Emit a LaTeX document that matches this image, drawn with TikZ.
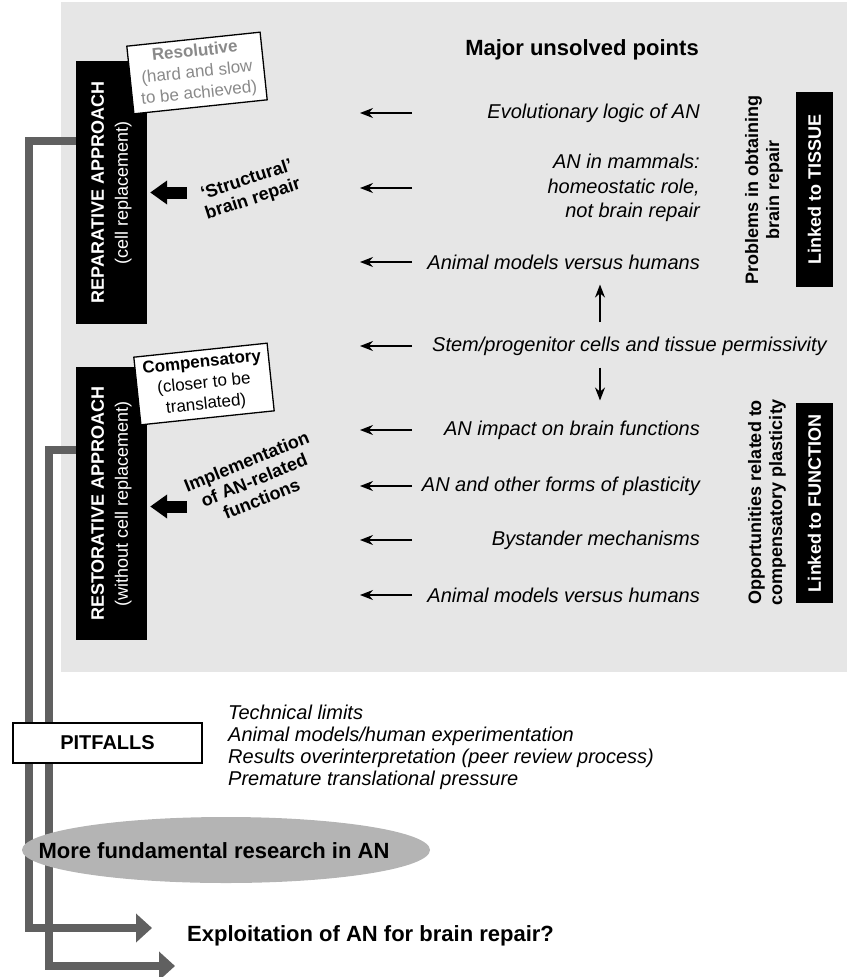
\documentclass[tikz,border=0pt]{standalone}
\usepackage{fontspec}
\setmainfont{Liberation Sans}
\usetikzlibrary{
    arrows.meta,
    shapes.geometric,
    calc
}
\definecolor{panelgray}{HTML}{E6E6E6}
\definecolor{flowgray}{HTML}{606060}
\definecolor{ovalgray}{HTML}{B4B4B4}
\definecolor{softtext}{HTML}{8A8A8A}
\tikzset {
    black box/.style = {fill = black, text = white, rotate = 90, align = center, inner sep = 0pt},
    tilted box/.style = {
        draw, fill = white, line width = 1.3pt, rotate = 6, align = center,
        minimum width = 134pt, minimum height = 68pt, inner sep = 2pt,
        font = \fontsize{17}{21}\selectfont
    },
    plain box/.style = {draw, fill = white, line width = 1.3pt, inner sep = 0pt},
    item/.style = {anchor = east, inner sep = 0pt, font = \fontsize{20}{24.5}\selectfont\itshape},
    side label/.style = {rotate = 90, align = center, inner sep = 0pt, font = \fontsize{18}{21}\selectfont\bfseries},
    slanted label/.style = {align = center, inner sep = 0pt, font = \fontsize{18}{20}\selectfont\bfseries},
    oval/.style = {ellipse, fill = ovalgray, inner sep = 0pt},
    small arrow/.style = {line width = 1.4pt, arrows = {-Stealth[length = 13pt, width = 10pt]}},
    block arrow/.style = {line width = 12pt, arrows = {-Triangle[length = 17pt, width = 23pt]}},
    flow/.style = {draw = flowgray, line width = 8pt, arrows = {-Triangle[length = 16pt, width = 28pt]}}
}

\begin{document}
\begin{tikzpicture}[x = 1pt, y = -1pt]
    \useasboundingbox (0, 0) rectangle (851, 977);
    \fill [panelgray] (61, 2) rectangle (847, 672);

    % two approaches
    \node [black box, minimum width = 263pt, minimum height = 71pt, font = \fontsize{18}{24}\selectfont]
        (repar) at (111.5, 192.5) {\textbf{REPARATIVE APPROACH}\\(cell replacement)};
    \node [black box, minimum width = 273pt, minimum height = 71pt, font = \fontsize{18}{24}\selectfont]
        (restor) at (111.5, 503.5) {\textbf{RESTORATIVE APPROACH}\\(without cell replacement)};
    \node [tilted box, text = softtext] (resolutive) at (197, 73)
        {\textbf{Resolutive}\\(hard and slow\\to be achieved)};
    \node [tilted box] (compens) at (204, 384)
        {\textbf{Compensatory}\\(closer to be\\translated)};

    \node [slanted label, rotate = 18] (structural) at (250, 190) {‘Structural’\\brain repair};
    \node [slanted label, rotate = 22] (implement) at (254, 480) {Implementation\\of AN-related\\functions};
    \draw [block arrow] ([xshift = 40pt]repar.south) -- ([xshift = 3pt]repar.south);
    \draw [block arrow] ([xshift = 40pt, yshift = -3pt]restor.south) -- ([xshift = 3pt, yshift = -3pt]restor.south);

    % unsolved points
    \node [font = \fontsize{22}{26}\selectfont\bfseries] (heading) at (582, 50) {Major unsolved points};
    \node [item] (evo) at (700, 113) {Evolutionary logic of AN};
    \node [item, align = right] (mammals) at (700, 188) {AN in mammals:\\homeostatic role,\\not brain repair};
    \node [item] (animal1) at (700, 262) {Animal models versus humans};
    \node [item] (stem) at (827, 346) {Stem/progenitor cells and tissue permissivity};
    \node [item] (impact) at (700, 430) {AN impact on brain functions};
    \node [item] (plastic) at (700, 486) {AN and other forms of plasticity};
    \node [item] (bystander) at (700, 540) {Bystander mechanisms};
    \node [item] (animal2) at (700, 595) {Animal models versus humans};

    \coordinate (rowstart) at (412, 0);
    \coordinate (rowend) at (360, 0);
    \coordinate (updown) at (600, 0);
    \draw [small arrow] (evo -| rowstart) -- (evo -| rowend);
    \draw [small arrow] (mammals -| rowstart) -- (mammals -| rowend);
    \draw [small arrow] (animal1 -| rowstart) -- (animal1 -| rowend);
    \draw [small arrow] (stem -| rowstart) -- (stem -| rowend);
    \draw [small arrow] (impact -| rowstart) -- (impact -| rowend);
    \draw [small arrow] (plastic -| rowstart) -- (plastic -| rowend);
    \draw [small arrow] (bystander -| rowstart) -- (bystander -| rowend);
    \draw [small arrow] (animal2 -| rowstart) -- (animal2 -| rowend);
    \draw [small arrow, shorten <= 14pt, shorten >= 15pt] (stem.north -| updown) -- (animal1.south -| updown);
    \draw [small arrow, shorten <= 12pt, shorten >= 20pt] (stem.south -| updown) -- (impact.north -| updown);

    % right side
    \node [side label] (problems) at (764, 190) {Problems in obtaining\\brain repair};
    \node [side label] (opport) at (767, 502) {Opportunities related to\\compensatory plasticity};
    \node [black box, minimum width = 195pt, minimum height = 37pt, font = \fontsize{18}{21}\selectfont\bfseries]
        (tissue) at (814.5, 189.5) {Linked to TISSUE};
    \node [black box, minimum width = 200pt, minimum height = 37pt, font = \fontsize{18}{21}\selectfont\bfseries]
        (function) at (814.5, 503) {Linked to FUNCTION};

    % paths to exploitation
    \coordinate (bend1) at (29, 141);
    \coordinate (goal1) at (152, 928);
    \coordinate (bend2) at (49, 450);
    \coordinate (goal2) at (175, 966);
    \draw [flow] (repar.north |- bend1) -- (bend1) |- (goal1);
    \draw [flow] (restor.north |- bend2) -- (bend2) |- (goal2);

    \node [plain box, minimum width = 189pt, minimum height = 40pt, font = \fontsize{20}{24}\selectfont\bfseries]
        (pitfalls) at (107.5, 743) {PITFALLS};
    \node [anchor = west, align = left, inner sep = 0pt, font = \fontsize{20}{22}\selectfont\itshape]
        (limits) at (228, 747) {Technical limits\\Animal models/human experimentation\\Results overinterpretation (peer review process)\\Premature translational pressure};
    \node [oval, minimum width = 408pt, minimum height = 66pt] (research) at (226, 850) {};
    \node [inner sep = 0pt, font = \fontsize{22}{26}\selectfont\bfseries] (researchtext) at (214, 851)
        {More fundamental research in AN};
    \node [anchor = west, inner sep = 0pt, font = \fontsize{22}{26}\selectfont\bfseries]
        (exploit) at (187, 936) {Exploitation of AN for brain repair?};
\end{tikzpicture}
\end{document}
